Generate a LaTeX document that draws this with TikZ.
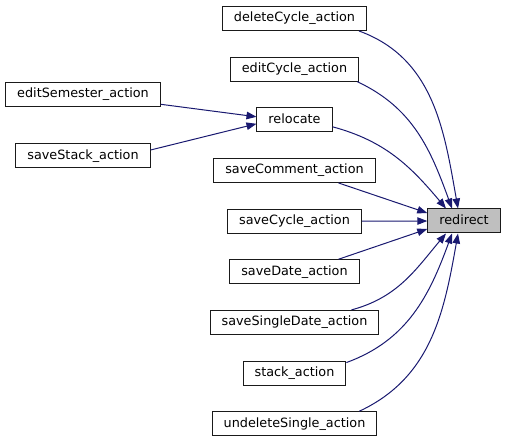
\documentclass[tikz,border=0pt]{standalone}
\usepackage{fontspec}
\setmainfont{DejaVu Sans}
\usetikzlibrary{positioning,arrows.meta}
\definecolor{cEdge}{HTML}{191970}
\definecolor{cBord}{HTML}{1A1A1A}
\definecolor{cCur} {HTML}{BFBFBF}
\tikzset{
  >={Triangle[length=10pt,width=7.5pt]},
  fn/.style  ={draw=cBord,fill=white,line width=1pt,inner xsep=11.5pt,inner ysep=0pt,
               minimum height=24pt,text height=9.6pt,text depth=3pt,
               font=\fontsize{12.8}{15}\selectfont},
  fcur/.style={fn,fill=cCur},
  far/.style ={->,cEdge,line width=1pt},
}
\begin{document}
\begin{tikzpicture}[x=1pt,y=1pt,node distance=25.65pt]
    \useasboundingbox (0,0) rectangle (505,-443);
    % callers of redirect
    \node[fn] (dc) at (294.5,-18.5) {deleteCycle\_action};
    \node[fn,below=of dc]  (ec)  {editCycle\_action};
    \node[fn,below=of ec]  (rl)  {relocate};
    \node[fn,below=of rl]  (sc)  {saveComment\_action};
    \node[fn,below=of sc]  (svc) {saveCycle\_action};
    \node[fn,below=of svc] (sd)  {saveDate\_action};
    \node[fn,below=of sd]  (ssd) {saveSingleDate\_action};
    \node[fn,below=of ssd] (st)  {stack\_action};
    \node[fn,below=of st]  (ud)  {undeleteSingle\_action};
    \node[fcur] (rd) at (464,-221) {redirect};
    % callers of relocate
    \node[fn] (es) at (83,-94.3) {editSemester\_action};
    \node[fn] (ss) at (83,-156)  {saveStack\_action};
    \draw[far] ([yshift=-10pt]es.east) -- ([yshift=3pt]rl.west);
    \draw[far] ([yshift=6pt]ss.east) -- ([yshift=-4pt]rl.west);
    \draw[far] ([xshift=-8pt]dc.south east) to[out=-20,in=100] ([xshift=-6pt]rd.north);
    \draw[far] ([xshift=-2pt]ec.south east) to[out=-25,in=110] ([xshift=-12pt]rd.north);
    \draw[far] ([yshift=-7pt]rl.east) to[out=-15,in=130] ([xshift=-18pt]rd.north);
    \draw[far] ([xshift=44pt]sc.south) -- ([yshift=8pt]rd.west);
    \draw[far] (svc) -- (rd);
    \draw[far] ([xshift=44pt]sd.north) -- ([yshift=-8pt]rd.west);
    \draw[far] ([xshift=57pt]ssd.north) to[out=15,in=-130] ([xshift=-18pt]rd.south);
    \draw[far] ([yshift=-2pt]st.north east) to[out=20,in=-110] ([xshift=-12pt]rd.south);
    \draw[far] ([xshift=-18pt]ud.north east) to[out=25,in=-100] ([xshift=-6pt]rd.south);
\end{tikzpicture}
\end{document}
